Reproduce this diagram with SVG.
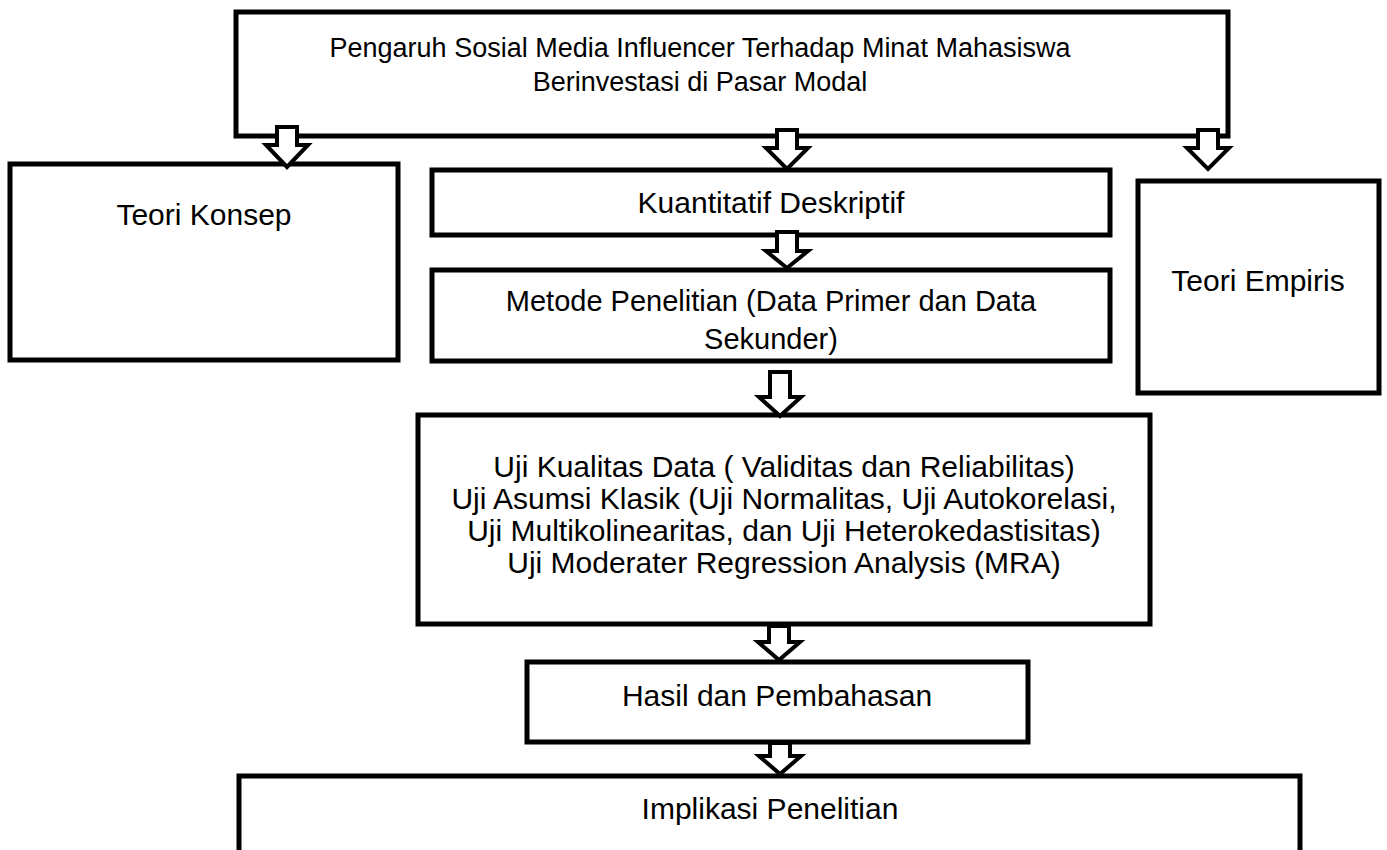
<svg xmlns="http://www.w3.org/2000/svg" width="1387" height="850" viewBox="0 0 1387 850">
<style>
.box{fill:#fff;stroke:#000;stroke-width:5;stroke-linejoin:miter}
.arr{fill:#fff;stroke:#000;stroke-width:4;stroke-linejoin:miter}
text{font-family:"Liberation Sans",Arial,sans-serif;font-size:30px;fill:#000;text-anchor:middle}
</style>
<rect width="1387" height="850" fill="#fff"/>
<g id="node-title">
<rect class="box" x="236" y="12" width="992" height="124"/>
<text x="700" y="57" style="font-size:27px">Pengaruh Sosial Media Influencer Terhadap Minat Mahasiswa</text>
<text x="700" y="91" style="font-size:27px">Berinvestasi di Pasar Modal</text>
</g>
<g id="node-teori-konsep">
<rect class="box" x="10" y="164" width="388" height="196"/>
<text x="204" y="225">Teori Konsep</text>
</g>
<g id="node-kuantitatif">
<rect class="box" x="432" y="170" width="678" height="65"/>
<text x="771" y="213">Kuantitatif Deskriptif</text>
</g>
<g id="node-metode">
<rect class="box" x="432" y="270" width="678" height="91"/>
<text x="771" y="311" style="font-size:29px">Metode Penelitian (Data Primer dan Data</text>
<text x="771" y="349" style="font-size:29px">Sekunder)</text>
</g>
<g id="node-teori-empiris">
<rect class="box" x="1138" y="181" width="241" height="212"/>
<text x="1258" y="291">Teori Empiris</text>
</g>
<g id="node-uji">
<rect class="box" x="418" y="415" width="732" height="209"/>
<text x="784" y="477">Uji Kualitas Data ( Validitas dan Reliabilitas)</text>
<text x="784" y="509">Uji Asumsi Klasik (Uji Normalitas, Uji Autokorelasi,</text>
<text x="784" y="541">Uji Multikolinearitas, dan Uji Heterokedastisitas)</text>
<text x="784" y="573">Uji Moderater Regression Analysis (MRA)</text>
</g>
<g id="node-hasil">
<rect class="box" x="527" y="662" width="501" height="80"/>
<text x="777" y="706">Hasil dan Pembahasan</text>
</g>
<g id="node-implikasi">
<path class="box" d="M239,860 V776 H1300 V860"/>
<text x="770" y="819">Implikasi Penelitian</text>
</g>
<g id="connectors">
<path class="arr" d="M277,127 H297 V145 H308 L287,167 L266,145 H277 Z"/>
<path class="arr" d="M777,130 H797 V148 H808 L787,169 L766,148 H777 Z"/>
<path class="arr" d="M1198,130 H1218 V148 H1229 L1208,169 L1187,148 H1198 Z"/>
<path class="arr" d="M777,232 H797 V251 H808 L787,268 L766,251 H777 Z"/>
<path class="arr" d="M770,372 H790 V397 H801 L780,416 L759,397 H770 Z"/>
<path class="arr" d="M769,626 H789 V642 H800 L779,660 L758,642 H769 Z"/>
<path class="arr" d="M770,743 H790 V756 H801 L780,774 L759,756 H770 Z"/>
</g>
</svg>
